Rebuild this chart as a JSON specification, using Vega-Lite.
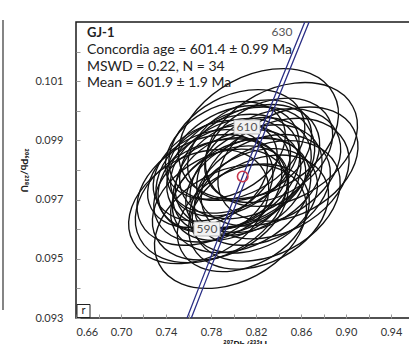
{
  "$schema": "https://vega.github.io/schema/vega-lite/v6.json",
  "width": 337.5,
  "height": 296,
  "autosize": "none",
  "padding": {"left": 76, "top": 22, "right": 0, "bottom": 26},
  "background": "white",
  "config": {"view": {"stroke": "#1a1a1a", "strokeWidth": 1.5}, "font": "Lato"},
  "datasets": {
    "ellipses": [
      {"id": 1, "x": 0.82223, "y": 0.099225, "a": 0.1511},
      {"id": 2, "x": 0.84263, "y": 0.098864, "a": 0.1436},
      {"id": 3, "x": 0.83128, "y": 0.098092, "a": 0.136},
      {"id": 4, "x": 0.79736, "y": 0.096093, "a": 0.1436},
      {"id": 5, "x": 0.78028, "y": 0.096958, "a": 0.1436},
      {"id": 6, "x": 0.77467, "y": 0.097329, "a": 0.1284},
      {"id": 7, "x": 0.80871, "y": 0.097901, "a": 0.1284},
      {"id": 8, "x": 0.80297, "y": 0.097598, "a": 0.1209},
      {"id": 9, "x": 0.79163, "y": 0.097711, "a": 0.1247},
      {"id": 10, "x": 0.81432, "y": 0.098283, "a": 0.1323},
      {"id": 11, "x": 0.79736, "y": 0.098092, "a": 0.1133},
      {"id": 12, "x": 0.78602, "y": 0.097329, "a": 0.1209},
      {"id": 13, "x": 0.82006, "y": 0.097711, "a": 0.1247},
      {"id": 14, "x": 0.80642, "y": 0.097138, "a": 0.1323},
      {"id": 15, "x": 0.79507, "y": 0.097901, "a": 0.136},
      {"id": 16, "x": 0.82567, "y": 0.097329, "a": 0.1284},
      {"id": 17, "x": 0.78372, "y": 0.09798, "a": 0.1171},
      {"id": 18, "x": 0.81088, "y": 0.09744, "a": 0.1133},
      {"id": 19, "x": 0.79966, "y": 0.098361, "a": 0.1247},
      {"id": 20, "x": 0.81777, "y": 0.096958, "a": 0.1209},
      {"id": 21, "x": 0.78831, "y": 0.096835, "a": 0.1284},
      {"id": 22, "x": 0.83128, "y": 0.098664, "a": 0.1209},
      {"id": 23, "x": 0.80297, "y": 0.098843, "a": 0.1284},
      {"id": 24, "x": 0.79277, "y": 0.098664, "a": 0.1133},
      {"id": 25, "x": 0.82223, "y": 0.096577, "a": 0.1323},
      {"id": 26, "x": 0.80871, "y": 0.096386, "a": 0.1247},
      {"id": 27, "x": 0.77697, "y": 0.097711, "a": 0.1133},
      {"id": 28, "x": 0.83702, "y": 0.097711, "a": 0.1397},
      {"id": 29, "x": 0.81432, "y": 0.098664, "a": 0.1171},
      {"id": 30, "x": 0.79736, "y": 0.097216, "a": 0.1096},
      {"id": 31, "x": 0.84837, "y": 0.098201, "a": 0.1323},
      {"id": 32, "x": 0.76906, "y": 0.096767, "a": 0.1323},
      {"id": 33, "x": 0.80642, "y": 0.098092, "a": 0.1397},
      {"id": 34, "x": 0.82911, "y": 0.096958, "a": 0.1397}
    ],
    "concordia": [
      {"band": "a", "t": 570, "x": 0.753063, "y": 0.092448},
      {"band": "a", "t": 580, "x": 0.770414, "y": 0.094144},
      {"band": "a", "t": 590, "x": 0.787935, "y": 0.095843},
      {"band": "a", "t": 600, "x": 0.805631, "y": 0.097544},
      {"band": "a", "t": 610, "x": 0.823501, "y": 0.099248},
      {"band": "a", "t": 620, "x": 0.841549, "y": 0.100954},
      {"band": "a", "t": 630, "x": 0.859775, "y": 0.102664},
      {"band": "a", "t": 640, "x": 0.878181, "y": 0.104376},
      {"band": "b", "t": 570, "x": 0.756863, "y": 0.092448},
      {"band": "b", "t": 580, "x": 0.774214, "y": 0.094144},
      {"band": "b", "t": 590, "x": 0.791735, "y": 0.095843},
      {"band": "b", "t": 600, "x": 0.809431, "y": 0.097544},
      {"band": "b", "t": 610, "x": 0.827301, "y": 0.099248},
      {"band": "b", "t": 620, "x": 0.845349, "y": 0.100954},
      {"band": "b", "t": 630, "x": 0.863575, "y": 0.102664},
      {"band": "b", "t": 640, "x": 0.881981, "y": 0.104376}
    ],
    "agelabels": [
      {"age": "630", "x": 0.8431, "y": 0.102662, "boxed": false},
      {"age": "610", "x": 0.812, "y": 0.099453, "boxed": true},
      {"age": "590", "x": 0.7764, "y": 0.096007, "boxed": true}
    ],
    "notes": [
      {"text": "Concordia age = 601.4 ± 0.99 Ma", "x": 0.6698, "y": 0.10205},
      {"text": "MSWD = 0.22, N = 34", "x": 0.6698, "y": 0.10148},
      {"text": "Mean = 601.9 ± 1.9 Ma", "x": 0.6698, "y": 0.10094}
    ],
    "sample": [{"text": "GJ-1", "x": 0.6698, "y": 0.10263}],
    "mean": [{"x": 0.80817, "y": 0.097782}],
    "rbox": [{"text": "r", "x": 0.66667, "y": 0.093236}],
    "edge": [{"x": 0.59511, "y": 0.09327, "y2": 0.103068}]
  },
  "encoding": {
    "x": {
      "field": "x", "type": "quantitative",
      "scale": {"domain": [0.66, 0.96], "nice": false, "zero": false},
      "axis": {
        "values": [0.66, 0.68, 0.70, 0.72, 0.74, 0.76, 0.78, 0.80, 0.82, 0.84, 0.86, 0.88, 0.90, 0.92, 0.94, 0.96],
        "format": ".2f",
        "labelExpr": "round(datum.value*100)%4==2 ? datum.label : ''",
        "domain": false, "grid": false,
        "tickSize": -4, "tickColor": "#999", "labelPadding": 12, "labelDx": 6,
        "labelFont": "Lato", "labelFontSize": 11, "labelColor": "#333", "labelOverlap": false,
        "title": "²⁰⁷Pb/²³⁵U", "titleFont": "Lato", "titleFontSize": 10, "titleFontWeight": "bold",
        "titleColor": "#222", "titlePadding": 2
      }
    },
    "y": {
      "field": "y", "type": "quantitative",
      "scale": {"domain": [0.093, 0.103], "nice": false, "zero": false},
      "axis": {
        "values": [0.093, 0.094, 0.095, 0.096, 0.097, 0.098, 0.099, 0.1, 0.101, 0.102],
        "format": ".3f",
        "labelExpr": "round(datum.value*1000)%2==1 ? datum.label : ''",
        "domain": false, "grid": false,
        "tickSize": -4, "tickColor": "#999", "labelPadding": 17,
        "labelFont": "Lato", "labelFontSize": 11, "labelColor": "#333", "labelOverlap": false,
        "title": "²⁰⁶Pb/²³⁸U", "titleFont": "Lato", "titleFontSize": 10, "titleFontWeight": "bold",
        "titleColor": "#222", "titleAngle": 90, "titlePadding": 16
      }
    }
  },
  "layer": [
    {
      "data": {"name": "ellipses"},
      "mark": {"type": "point", "filled": false, "stroke": "#111", "strokeWidth": 1.35, "opacity": 1,
               "shape": "M-0.8829,0.4695A1,0.68,-28,1,1,0.8829,-0.4695A1,0.68,-28,1,1,-0.8829,0.4695Z"},
      "encoding": {
        "size": {"field": "a", "type": "quantitative", "legend": null,
                 "scale": {"type": "pow", "exponent": 2, "domain": [0, 0.2], "range": [0, 50625]}}
      }
    },
    {
      "data": {"name": "concordia"},
      "mark": {"type": "line", "color": "#2b2f86", "strokeWidth": 1.3, "clip": true},
      "encoding": {"detail": {"field": "band"}, "order": {"field": "t", "type": "quantitative"}}
    },
    {
      "data": {"name": "agelabels"},
      "transform": [{"filter": "datum.boxed"}],
      "mark": {"type": "point", "filled": true, "fill": "#f2f2f2", "stroke": "#aaa", "strokeWidth": 0.8,
               "opacity": 1, "size": 676, "shape": "M-1,-0.54H1V0.54H-1Z"},
      "encoding": {}
    },
    {
      "data": {"name": "agelabels"},
      "mark": {"type": "text", "font": "Lato", "fontSize": 12, "color": "#555", "align": "center", "baseline": "middle"},
      "encoding": {"text": {"field": "age"}}
    },
    {
      "data": {"name": "mean"},
      "mark": {"type": "point", "shape": "circle", "filled": false, "stroke": "#c8374d", "strokeWidth": 1.6, "size": 110, "opacity": 1},
      "encoding": {}
    },
    {
      "data": {"name": "notes"},
      "mark": {"type": "text", "font": "Lato", "fontSize": 14, "color": "#222", "align": "left", "baseline": "middle"},
      "encoding": {"text": {"field": "text"}}
    },
    {
      "data": {"name": "sample"},
      "mark": {"type": "text", "font": "Lato", "fontSize": 13, "fontWeight": "bold", "color": "#222", "align": "left", "baseline": "middle"},
      "encoding": {"text": {"field": "text"}}
    },
    {
      "data": {"name": "rbox"},
      "mark": {"type": "point", "shape": "square", "filled": false, "stroke": "#222", "strokeWidth": 1, "size": 169, "opacity": 1},
      "encoding": {}
    },
    {
      "data": {"name": "rbox"},
      "mark": {"type": "text", "font": "Lato", "fontSize": 11, "color": "#222", "align": "center", "baseline": "middle"},
      "encoding": {"text": {"field": "text"}}
    },
    {
      "data": {"name": "edge"},
      "mark": {"type": "rule", "color": "#333", "strokeWidth": 1.2, "clip": false},
      "encoding": {"y2": {"field": "y2"}}
    }
  ]
}
